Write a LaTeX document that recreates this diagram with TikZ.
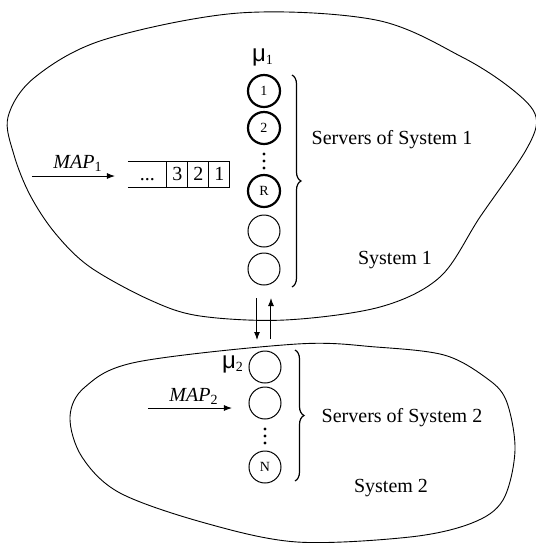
\documentclass[tikz,border=0pt]{standalone}
\usepackage{fontspec}
\setmainfont{Liberation Serif}
\newfontfamily\mufont{Liberation Sans}
\usetikzlibrary{arrows.meta,decorations.pathreplacing}

\begin{document}
\begin{tikzpicture}[x=0.5pt, y=-0.5pt,
  server/.style={circle, draw, line width=0.5pt, minimum size=16pt, inner sep=0pt, font=\fontsize{7}{8}\selectfont},
  busy/.style={server, line width=1.1pt},
  cell/.style={draw, line width=0.5pt, minimum width=10.5pt, minimum height=13pt, inner sep=0pt, outer sep=0pt},
  flow/.style={-{Latex[length=4pt,width=3pt]}, line width=0.5pt},
  blob/.style={line width=0.45pt},
  servbrace/.style={decorate, decoration={brace, amplitude=4.5pt}, line width=0.6pt}]
\useasboundingbox (0,0) rectangle (536,543);

% System 1 outline
\draw[blob] plot[smooth cycle, tension=0.55] coordinates {(239,13) (376,20) (462,57) (513,90) (536,117) (526,150)
  (480,217) (440,277) (380,307) (285,320) (200,316) (150,300) (90,267) (55,233) (30,195) (14,155) (8,117)
  (34,78) (103,40)};

% System 2 outline
\draw[blob] plot[smooth cycle, tension=0.55] coordinates {(297,344) (376,347) (444,355) (485,377) (506,400) (515,450)
  (503,500) (472,523) (410,537) (297,542) (205,523) (120,493) (82,457) (70,417) (85,387) (137,362)};

% Queue of System 1
\node[cell] (c1) at (219.5,174) {1};
\node[cell] (c2) at (198.5,174) {2};
\node[cell] (c3) at (177.5,174) {3};
\node[minimum width=19.5pt, minimum height=13pt, inner sep=0pt, outer sep=0pt] (cd) at (147.5,174) {\vphantom{3}...};
\draw[line width=0.5pt] (cd.north west) -- (c3.north west);
\draw[line width=0.5pt] (cd.south west) -- (c3.south west);

% Arrivals MAP1
\coordinate (in1) at (32,176);
\coordinate (q1) at (115,176);
\draw[flow] (in1) -- (q1);
\node (map1) at (78,163) {\textit{MAP}\textsubscript{1}};

% Servers of System 1
\node (mu1) at (263,57) {{\mufont\fontsize{12}{12}\selectfont μ}\textsubscript{1}};
\node[busy] (s1) at (264,91) {1};
\node[busy] (s2) at (264,128) {2};
\node[busy] (sR) at (264,191) {R};
\node[server] (s5) at (264,231) {};
\node[server] (s6) at (264,269) {};
\foreach \y in {154,161,168} \fill (264,\y) circle (0.85pt);

\coordinate (b1top) at (292,75);
\coordinate (b1bot) at (292,287);
\draw[servbrace] (b1top) -- (b1bot);
\node (srv1) at (392,140) {Servers of System 1};
\node (sys1) at (395,260) {System 1};

% Exchange between systems
\coordinate (d1) at (257,298);
\coordinate (d2) at (257,340);
\coordinate (u1) at (271,339);
\coordinate (u2) at (271,298);
\draw[flow] (d1) -- (d2);
\draw[flow] (u1) -- (u2);

% Servers of System 2
\node (mu2) at (233,364) {{\mufont\fontsize{12}{12}\selectfont μ}\textsubscript{2}};
\node[server] (t1) at (265,367) {};
\node[server] (t2) at (265,403) {};
\node[server] (tN) at (265,467) {N};
\foreach \y in {429,436,443} \fill (265,\y) circle (0.85pt);

\coordinate (in2) at (148,408);
\coordinate (q2) at (232,408);
\draw[flow] (in2) -- (q2);
\node (map2) at (194,396) {\textit{MAP}\textsubscript{2}};

\coordinate (b2top) at (295,350);
\coordinate (b2bot) at (295,481);
\draw[servbrace] (b2top) -- (b2bot);
\node (srv2) at (402,418) {Servers of System 2};
\node (sys2) at (391,488) {System 2};
\end{tikzpicture}
\end{document}
